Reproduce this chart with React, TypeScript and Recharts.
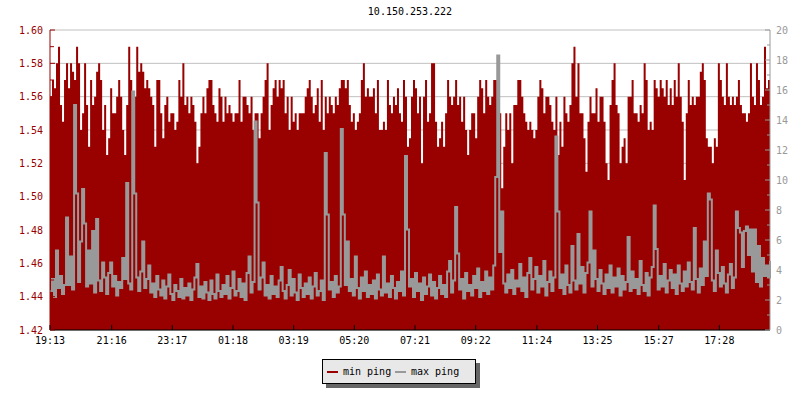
import { ComposedChart, Area, Line, XAxis, YAxis, CartesianGrid } from "recharts";

const RED = "#990000";
const GREY = "#999999";
const FONT = "'DejaVu Sans Mono', monospace";

const chartTitle = "10.150.253.222";
const seriesNames = ["min ping", "max ping"];
const timeLabels = ["19:13", "21:16", "23:17", "01:18", "03:19", "05:20", "07:21", "09:22", "11:24", "13:25", "15:27", "17:28"];
const sampleMinutes = 4;

// min ping (ms), left axis, one sample every 4 minutes
const minPing = [
  1.56, 1.57, 1.565, 1.58, 1.59, 1.555, 1.545, 1.57, 1.58, 1.565,
  1.58, 1.575, 1.57, 1.59, 1.58, 1.54, 1.55, 1.58, 1.555, 1.53,
  1.57, 1.555, 1.56, 1.575, 1.58, 1.57, 1.54, 1.555, 1.525, 1.535,
  1.565, 1.55, 1.55, 1.56, 1.57, 1.56, 1.54, 1.525, 1.555, 1.59,
  1.57, 1.555, 1.56, 1.59, 1.575, 1.58, 1.575, 1.565, 1.57, 1.565,
  1.56, 1.555, 1.53, 1.57, 1.57, 1.55, 1.535, 1.555, 1.56, 1.545,
  1.55, 1.55, 1.54, 1.545, 1.57, 1.56, 1.58, 1.555, 1.56, 1.55,
  1.56, 1.555, 1.545, 1.52, 1.53, 1.55, 1.56, 1.55, 1.565, 1.57,
  1.57, 1.555, 1.55, 1.545, 1.565, 1.56, 1.545, 1.56, 1.55, 1.555,
  1.55, 1.545, 1.55, 1.55, 1.57, 1.545, 1.56, 1.56, 1.555, 1.55,
  1.56, 1.54, 1.55, 1.55, 1.535, 1.55, 1.56, 1.57, 1.58, 1.54,
  1.555, 1.565, 1.57, 1.56, 1.57, 1.565, 1.57, 1.55, 1.56, 1.54,
  1.56, 1.545, 1.55, 1.54, 1.55, 1.55, 1.55, 1.56, 1.565, 1.57,
  1.56, 1.55, 1.555, 1.565, 1.545, 1.57, 1.54, 1.56, 1.55, 1.56,
  1.555, 1.55, 1.56, 1.555, 1.565, 1.57, 1.57, 1.565, 1.57, 1.555,
  1.545, 1.55, 1.54, 1.545, 1.55, 1.57, 1.58, 1.56, 1.565, 1.56,
  1.56, 1.565, 1.55, 1.57, 1.54, 1.54, 1.545, 1.54, 1.57, 1.555,
  1.55, 1.56, 1.555, 1.565, 1.55, 1.545, 1.57, 1.56, 1.53, 1.535,
  1.56, 1.57, 1.565, 1.55, 1.56, 1.52, 1.56, 1.57, 1.545, 1.55,
  1.58, 1.58, 1.545, 1.53, 1.535, 1.545, 1.53, 1.55, 1.57, 1.56,
  1.555, 1.56, 1.57, 1.555, 1.56, 1.545, 1.56, 1.54, 1.525, 1.54,
  1.55, 1.55, 1.535, 1.56, 1.57, 1.565, 1.55, 1.57, 1.56, 1.555,
  1.56, 1.57, 1.57, 1.53, 1.55, 1.505, 1.53, 1.55, 1.54, 1.55,
  1.52, 1.555, 1.555, 1.57, 1.57, 1.56, 1.55, 1.545, 1.54, 1.545,
  1.54, 1.535, 1.54, 1.56, 1.57, 1.565, 1.55, 1.56, 1.56, 1.555,
  1.545, 1.54, 1.56, 1.525, 1.545, 1.53, 1.56, 1.55, 1.545, 1.555,
  1.58, 1.59, 1.56, 1.58, 1.55, 1.55, 1.535, 1.515, 1.545, 1.56,
  1.55, 1.55, 1.565, 1.545, 1.56, 1.56, 1.545, 1.52, 1.51, 1.555,
  1.57, 1.58, 1.555, 1.55, 1.52, 1.53, 1.535, 1.52, 1.56, 1.56,
  1.57, 1.55, 1.55, 1.545, 1.555, 1.55, 1.58, 1.57, 1.54, 1.545,
  1.54, 1.57, 1.565, 1.56, 1.57, 1.565, 1.56, 1.57, 1.555, 1.565,
  1.555, 1.57, 1.56, 1.58, 1.56, 1.545, 1.51, 1.55, 1.57, 1.555,
  1.56, 1.555, 1.56, 1.56, 1.575, 1.58, 1.57, 1.535, 1.53, 1.53,
  1.52, 1.535, 1.53, 1.58, 1.57, 1.56, 1.555, 1.58, 1.56, 1.555,
  1.56, 1.555, 1.56, 1.57, 1.555, 1.55, 1.55, 1.545, 1.55, 1.58,
  1.56, 1.555, 1.58, 1.57, 1.555, 1.56, 1.59, 1.565, 1.57, 1.56,
];

// max ping (ms), right axis
const maxPing = [
  2.6, 3.4, 2.2, 5.3, 2.8, 3.6, 2.4, 3.0, 7.5, 3.0,
  4.9, 2.7, 15.0, 9.1, 3.2, 5.9, 9.4, 7.1, 2.9, 5.3,
  3.1, 6.6, 2.5, 7.4, 3.3, 2.6, 4.5, 3.5, 2.4, 3.8,
  4.5, 2.9, 3.6, 2.3, 3.2, 2.8, 4.8, 3.4, 9.8, 3.1,
  2.7, 15.9, 9.1, 3.5, 2.6, 3.9, 5.9, 2.8, 3.4, 4.3,
  2.5, 3.1, 2.2, 3.6, 2.7, 2.3, 3.3, 2.1, 2.9, 3.7,
  2.4, 2.0, 3.0, 2.6, 2.2, 3.4, 2.1, 2.8, 2.3, 3.1,
  2.0, 2.7, 3.5, 4.4, 2.2, 2.9, 2.1, 3.2, 2.5, 2.0,
  3.3, 2.4, 2.1, 3.7, 2.6, 2.2, 3.0, 2.4, 3.6, 2.1,
  2.8, 3.9, 2.3, 2.6, 3.4, 2.2, 3.1, 2.0, 3.8, 4.9,
  2.5, 3.2, 13.9, 8.5, 2.7, 3.5, 4.5, 2.3, 3.0, 2.1,
  3.6, 2.4, 2.9, 2.2, 3.3, 4.2, 2.6, 2.1, 3.0, 4.0,
  2.3, 3.4, 2.5, 2.0, 3.7, 2.8, 2.2, 3.1, 2.4, 3.5,
  2.1, 2.9, 3.8, 2.3, 2.6, 3.3, 2.0, 11.8, 7.7, 2.7,
  3.2, 2.2, 3.6, 2.5, 2.9, 13.4, 7.7, 3.0, 5.9, 2.6,
  3.4, 2.3, 4.9, 2.8, 2.1, 3.5, 2.6, 3.9, 2.2, 3.0,
  2.4, 3.3, 2.1, 3.7, 2.7, 2.3, 4.9, 2.5, 3.1, 2.2,
  3.6, 2.8, 2.1, 3.2, 2.6, 3.9, 2.3, 11.6, 6.7, 2.9,
  3.4, 2.2, 3.8, 2.6, 3.1, 2.0, 3.5, 2.4, 2.9, 3.7,
  2.3, 3.2, 2.1, 2.8, 3.6, 2.4, 3.0, 2.2, 3.9, 4.6,
  2.5, 3.3, 8.2, 5.1, 2.7, 3.4, 2.1, 3.8, 2.6, 3.0,
  2.3, 3.6, 2.8, 4.1, 2.2, 3.2, 2.6, 3.9, 2.4, 3.5,
  2.7, 4.3, 10.2, 18.3, 5.2, 7.9, 3.1, 2.5, 3.7, 2.8,
  4.0, 2.4, 3.3, 2.9, 4.4, 2.6, 3.5, 2.2, 3.8, 4.8,
  2.7, 3.4, 4.2, 2.5, 3.6, 2.9, 4.6, 2.3, 3.2, 3.9,
  2.6, 3.5, 12.9, 7.9, 2.8, 3.7, 2.4, 4.3, 3.0, 2.5,
  5.6, 3.3, 2.7, 6.4, 3.1, 4.2, 2.5, 3.8, 4.5, 7.9,
  2.9, 5.3, 3.4, 2.6, 4.0, 3.1, 2.4, 3.7, 2.8, 4.3,
  2.5, 3.5, 2.9, 4.1, 2.3, 3.6, 2.7, 3.2, 6.2, 2.6,
  3.9, 2.8, 3.4, 2.4, 4.6, 3.0, 2.6, 3.8, 2.3, 3.5,
  4.2, 8.3, 5.4, 2.7, 3.6, 2.9, 4.4, 2.5, 3.3, 4.0,
  2.8, 3.7, 2.4, 4.3, 3.1, 2.6, 3.9, 2.9, 4.5, 3.2,
  2.7, 6.8, 3.4, 2.5, 4.1, 3.0, 5.9, 3.6, 9.1, 8.7,
  3.3, 2.6, 5.3, 3.8, 2.9, 4.2, 3.1, 2.5, 3.7, 4.4,
  2.8, 3.5, 7.9, 6.8, 6.5, 4.2, 6.6, 6.9, 5.0, 6.7,
  3.9, 6.7, 3.2, 5.6, 2.9, 4.8, 3.6, 4.3, 3.5, 4.6,
];

const leftTicks = [1.42, 1.43, 1.44, 1.45, 1.46, 1.47, 1.48, 1.49, 1.5, 1.51, 1.52, 1.53, 1.54, 1.55, 1.56, 1.57, 1.58, 1.59, 1.6];
const gridValues = [1.42, 1.44, 1.46, 1.48, 1.5, 1.52, 1.54, 1.56, 1.58, 1.6];
const rightTicks = [0, 1, 2, 3, 4, 5, 6, 7, 8, 9, 10, 11, 12, 13, 14, 15, 16, 17, 18, 19, 20];

const toMinutes = (s: string) => {
  const [h, m] = s.split(":").map(Number);
  return h * 60 + m;
};
const startMin = toMinutes(timeLabels[0]);
const tickPositions = timeLabels.map((l) => (toMinutes(l) - startMin + 1440) % 1440);
const xMax = (minPing.length - 1) * sampleMinutes;

const data = minPing.map((v, i) => ({
  t: i * sampleMinutes,
  minPing: v,
  maxPing: maxPing[i],
}));

function LeftTick({ x, y, payload }: any) {
  const v = payload.value;
  const major = Math.round(v * 100) % 2 === 0;
  return (
    <g>
      <line x1={x} x2={x + (major ? 5 : 4)} y1={y} y2={y} stroke={RED} />
      {major && (
        <text x={x - 7} y={y} dy={3.5} textAnchor="end" fill={RED} fontSize={10} fontFamily={FONT}>
          {v.toFixed(2)}
        </text>
      )}
    </g>
  );
}

function RightTick({ x, y, payload }: any) {
  const v = payload.value;
  const major = v % 2 === 0;
  return (
    <g>
      <line x1={x - (major ? 5 : 3)} x2={x} y1={y} y2={y} stroke={GREY} />
      {major && (
        <text x={x + 6} y={y} dy={3.5} textAnchor="start" fill={GREY} fontSize={10} fontFamily={FONT}>
          {v}
        </text>
      )}
    </g>
  );
}

function TimeTick({ x, y, payload }: any) {
  const label = timeLabels[tickPositions.indexOf(payload.value)];
  return (
    <g>
      <line x1={x} x2={x} y1={y - 5} y2={y} stroke="#000" />
      <text x={x} y={y + 14} textAnchor="middle" fill="#000" fontSize={10} fontFamily={FONT}>
        {label}
      </text>
    </g>
  );
}

export default function App() {
  return (
    <div style={{ position: "absolute", left: 0, top: 0, width: 800, height: 400, background: "#fff" }}>
      <div
        style={{
          position: "absolute",
          left: 0,
          top: 5,
          width: 820,
          textAlign: "center",
          fontFamily: FONT,
          fontSize: 10,
          lineHeight: "14px",
          color: "#000",
        }}
      >
        {chartTitle}
      </div>
      <ComposedChart width={800} height={400} data={data} margin={{ top: 30, right: 5, bottom: 50, left: 5 }}>
        <CartesianGrid yAxisId="left" vertical={false} horizontalValues={gridValues} stroke="#c0c0c0" />
        <XAxis
          dataKey="t"
          type="number"
          domain={[0, xMax]}
          ticks={tickPositions}
          interval={0}
          height={20}
          tickSize={0}
          tickMargin={0}
          tickLine={false}
          axisLine={{ stroke: "#000" }}
          tick={<TimeTick />}
        />
        <YAxis
          yAxisId="left"
          domain={[1.42, 1.6]}
          ticks={leftTicks}
          interval={0}
          width={45}
          tickSize={0}
          tickMargin={0}
          tickLine={false}
          axisLine={{ stroke: RED }}
          tick={<LeftTick />}
        />
        <YAxis
          yAxisId="right"
          orientation="right"
          domain={[0, 20]}
          ticks={rightTicks}
          interval={0}
          width={25}
          tickSize={0}
          tickMargin={0}
          tickLine={false}
          axisLine={{ stroke: GREY }}
          tick={<RightTick />}
        />
        <Area
          yAxisId="left"
          dataKey="minPing"
          type="stepAfter"
          fill={RED}
          fillOpacity={1}
          stroke="none"
          baseValue={1.42}
          isAnimationActive={false}
        />
        <Line
          yAxisId="right"
          dataKey="maxPing"
          type="stepAfter"
          stroke={GREY}
          strokeWidth={2}
          strokeLinejoin="miter"
          dot={false}
          isAnimationActive={false}
        />
      </ComposedChart>
      <div
        style={{
          position: "absolute",
          left: 322,
          top: 359,
          width: 152,
          height: 23,
          background: "#e8e8e8",
          border: "1px solid #000",
          boxShadow: "4px 4px 0 #666",
          fontFamily: FONT,
          fontSize: 10,
          color: "#000",
        }}
      >
        {seriesNames.map((name, i) => (
          <div key={name} style={{ position: "absolute", left: i === 0 ? 4 : 72, top: 0, height: 23, display: "flex", alignItems: "center" }}>
            <span style={{ display: "inline-block", width: 11, height: 2, background: i === 0 ? RED : GREY, marginRight: 5 }} />
            <span>{name}</span>
          </div>
        ))}
      </div>
    </div>
  );
}
